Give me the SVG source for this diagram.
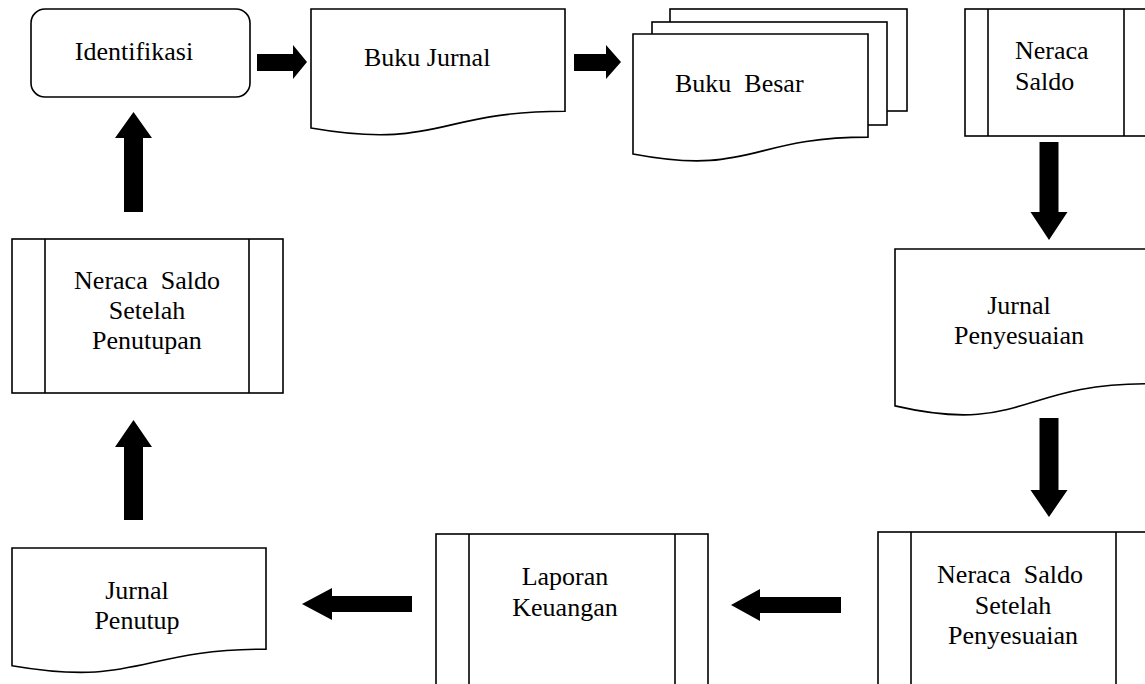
<svg xmlns="http://www.w3.org/2000/svg" width="1145" height="684" viewBox="0 0 1145 684">
<style>
.box{fill:#fff;stroke:#000;stroke-width:1.6}
.ln{fill:none;stroke:#000;stroke-width:1.6}
.arr{fill:#000;stroke:none}
text{font-family:"Liberation Serif","Times New Roman",serif;font-size:26px;fill:#000;white-space:pre}
.c{text-anchor:middle}
</style>
<rect width="1145" height="684" fill="#fff"/>
<g id="identifikasi">
<rect class="box" x="31" y="9" width="219" height="88" rx="14"/>
<text class="c" x="134" y="60">Identifikasi</text>
</g>
<g id="buku-jurnal">
<path class="box" d="M311,9 H565 V111.2 C438,111.2 438,150.1 311,128 Z"/>
<text x="364" y="66">Buku Jurnal</text>
</g>
<g id="buku-besar">
<rect class="box" x="670" y="9" width="237" height="102"/>
<rect class="box" x="652" y="22" width="235" height="103"/>
<path class="box" d="M633,34 H868 V137.1 C750.5,137.1 750.5,176.3 633,154 Z"/>
<text x="675" y="92">Buku  Besar</text>
</g>
<g id="neraca-saldo">
<rect class="box" x="965" y="9" width="184" height="127"/>
<line class="ln" x1="988" y1="9" x2="988" y2="136"/>
<line class="ln" x1="1124" y1="9" x2="1124" y2="136"/>
<text x="1015" y="59">Neraca</text>
<text x="1015" y="90">Saldo</text>
</g>
<g id="jurnal-penyesuaian">
<path class="box" d="M895,249 H1147 V383.7 C1021,383.7 1021,435.1 895,405.9 Z"/>
<text class="c" x="1019" y="314">Jurnal</text>
<text class="c" x="1019" y="344">Penyesuaian</text>
</g>
<g id="neraca-saldo-setelah-penyesuaian">
<rect class="box" x="878" y="532" width="271" height="160"/>
<line class="ln" x1="911" y1="532" x2="911" y2="692"/>
<line class="ln" x1="1116" y1="532" x2="1116" y2="692"/>
<text class="c" x="1010" y="583">Neraca  Saldo</text>
<text class="c" x="1013" y="614">Setelah</text>
<text class="c" x="1013" y="644">Penyesuaian</text>
</g>
<g id="laporan-keuangan">
<rect class="box" x="436" y="534" width="272" height="160"/>
<line class="ln" x1="469" y1="534" x2="469" y2="694"/>
<line class="ln" x1="675" y1="534" x2="675" y2="694"/>
<text class="c" x="565" y="585">Laporan</text>
<text class="c" x="565" y="616">Keuangan</text>
</g>
<g id="jurnal-penutup">
<path class="box" d="M12,548 H266 V649.1 C139,649.1 139,687.5 12,665.7 Z"/>
<text class="c" x="137" y="599">Jurnal</text>
<text class="c" x="137" y="629">Penutup</text>
</g>
<g id="neraca-saldo-setelah-penutupan">
<rect class="box" x="12" y="239" width="271" height="154"/>
<line class="ln" x1="45" y1="239" x2="45" y2="393"/>
<line class="ln" x1="249" y1="239" x2="249" y2="393"/>
<text class="c" x="147" y="289">Neraca  Saldo</text>
<text class="c" x="147" y="319">Setelah</text>
<text class="c" x="147" y="349">Penutupan</text>
</g>
<g id="connectors">
<polygon class="arr" points="257,54 293,54 293,45 307,62 293,79 293,71 257,71"/>
<polygon class="arr" points="574,54 606,54 606,45 621,62 606,79 606,71 574,71"/>
<polygon class="arr" points="1039.5,142 1058.5,142 1058.5,212 1067.5,212 1049,240 1030.5,212 1039.5,212"/>
<polygon class="arr" points="1039.5,418 1058.5,418 1058.5,490 1067.5,490 1049,517 1030.5,490 1039.5,490"/>
<polygon class="arr" points="841,597 841,613 760,613 760,621 731,605 760,589 760,597"/>
<polygon class="arr" points="412,596 412,612 332,612 332,620 302,604 332,588 332,596"/>
<polygon class="arr" points="124,520 143,520 143,447 152,447 133.5,420 115,447 124,447"/>
<polygon class="arr" points="124,212 143,212 143,138 152,138 133.5,112 115,138 124,138"/>
</g>
</svg>
